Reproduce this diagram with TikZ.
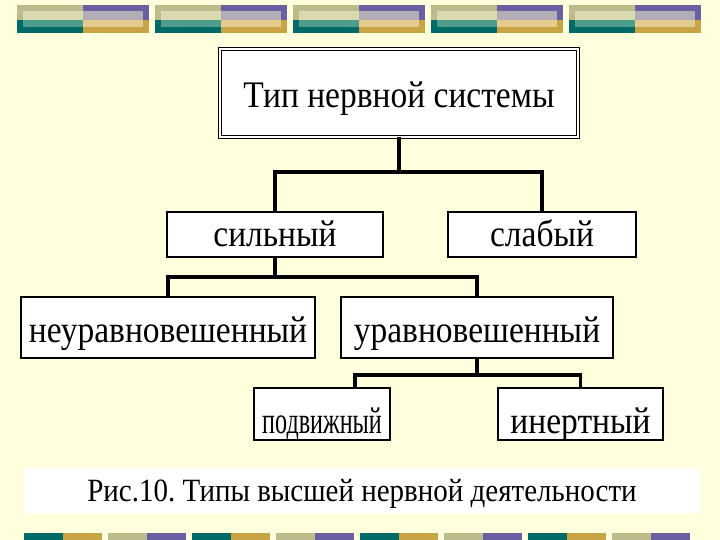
\documentclass[tikz,border=0pt]{standalone}
\usepackage{fontspec}
\usepackage{graphicx}
\setmainfont{Liberation Serif}
\frenchspacing
\usetikzlibrary{calc}
\definecolor{bgc}{HTML}{FFFFDD}
\definecolor{khaki}{HTML}{BDBB8C}
\definecolor{khakiL}{HTML}{DADAB2}
\definecolor{tealD}{HTML}{006A68}
\definecolor{tealL}{HTML}{4E9C8C}
\definecolor{purp}{HTML}{6B5FA3}
\definecolor{purpL}{HTML}{B3ADB5}
\definecolor{gold}{HTML}{C9A445}
\definecolor{goldL}{HTML}{E3CB8E}
\newcommand{\vtxt}[1]{\scalebox{1}[1.12]{#1}}
\tikzset{
  box/.style={draw=black, line width=1.1pt, fill=white, inner sep=0pt, align=center,
              text depth=0pt, font=\fontsize{33.5}{36}\selectfont},
  conn/.style={line width=3.5pt, line join=miter},
}
\begin{document}
\begin{tikzpicture}[x=1pt,y=-1pt]
\useasboundingbox (0,0) rectangle (720,540);
\fill[bgc] (0,0) rectangle (720,540);
% top decorative bars
\foreach \bx in {17,155,293,431,569}{
  \fill[khaki] (\bx,5) rectangle ++(66,15);
  \fill[purp] (\bx+66,5) rectangle ++(66,15);
  \fill[tealD] (\bx,20) rectangle ++(66,13);
  \fill[gold] (\bx+66,20) rectangle ++(66,13);
  \fill[khakiL] (\bx+6,11) rectangle (\bx+66,20);
  \fill[purpL] (\bx+66,11) rectangle (\bx+126,20);
  \fill[tealL] (\bx+6,20) rectangle (\bx+66,27);
  \fill[goldL] (\bx+66,20) rectangle (\bx+126,27);
}
% bottom decorative bars
\foreach \bx in {24,192,360,528}{
  \fill[tealD] (\bx,533) rectangle ++(39,8);
  \fill[gold] (\bx+39,533) rectangle ++(39,8);
  \fill[khaki] (\bx+84,533) rectangle ++(39,8);
  \fill[purp] (\bx+123,533) rectangle ++(39,8);
}
% caption
\node[fill=white, minimum width=676pt, minimum height=45pt, inner sep=0pt,
      text height=21pt, text depth=0pt,
      font=\fontsize{29}{32}\selectfont] (cap) at (362,490.5) {\vtxt{Рис.10. Типы высшей нервной деятельности}};
% boxes
\node[box, double, double distance=2pt, line width=0.8pt, minimum width=358pt, minimum height=88pt,
      text height=30pt] (top) at (399,93) {\vtxt{Тип нервной системы}};
\node[box, minimum width=216pt, minimum height=45pt, text height=23pt] (sil) at (275,234.5) {\vtxt{сильный}};
\node[box, minimum width=188pt, minimum height=45pt, text height=23pt] (slab) at (542,234.5) {\vtxt{слабый}};
\node[box, minimum width=294pt, minimum height=61pt, text height=29pt] (neur) at (168,327.5) {\vtxt{неуравновешенный}};
\node[box, minimum width=272pt, minimum height=61pt, text height=29pt] (urav) at (477,327.5) {\vtxt{уравновешенный}};
\node[box, minimum width=136pt, minimum height=52pt, text height=38pt] (podv) at (322,414) {\scalebox{0.72}[1.12]{подвижный}};
\node[box, minimum width=165pt, minimum height=52pt, text height=38pt] (inert) at (580.5,414) {\vtxt{инертный}};
% connectors
\coordinate (j1) at (top.south |- 0,172);
\coordinate (j2) at (sil.south |- 0,277);
\coordinate (j3) at (urav.south |- 0,375);
\path (podv.north) ++(33,0) coordinate (p1);
\draw[conn] (top.south) -- (j1);
\draw[conn] (sil.north) |- (j1) -| (slab.north);
\draw[conn] (sil.south) -- (j2);
\draw[conn] (neur.north) |- (j2) -| (urav.north);
\draw[conn] (urav.south) -- (j3);
\draw[conn] (p1) |- (j3) -| (inert.north);
\end{tikzpicture}
\end{document}
